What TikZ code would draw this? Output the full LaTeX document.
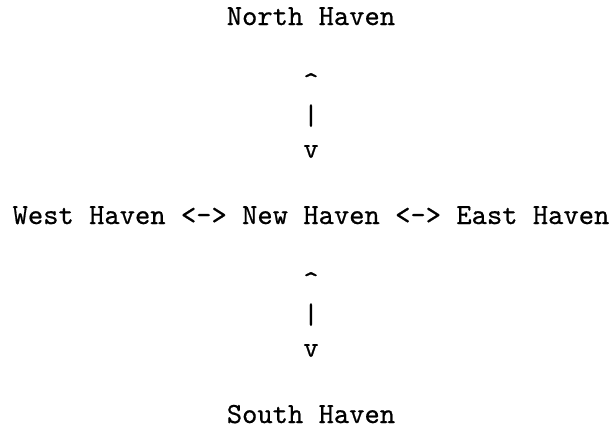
\documentclass[tikz,border=0pt]{standalone}
\usepackage{fontspec}
\setmonofont{lmmono10-regular.otf}[FakeBold=0.6]
\usetikzlibrary{positioning}

\begin{document}
\begin{tikzpicture}[x=1pt,y=1pt,
  every node/.style={font=\ttfamily, inner sep=0pt, outer sep=0pt, anchor=base}]
\useasboundingbox (0,0) rectangle (209.3,-145.8);
\node (north) at (106.7,-8.58) {North Haven};
\node (up1) at (106.7,-31.34) {\textasciicircum};
\node (bar1) at (106.7,-42.72) {|};
\node (down1) at (106.7,-54.10) {v};

\node[anchor=base west] (west) at (4.33,-76.86) {West Haven};
\node[right=5.25pt of west.base east, anchor=base west] (arrl) {<->};
\node[right=5.25pt of arrl.base east, anchor=base west] (new) {New Haven};
\node[right=5.25pt of new.base east, anchor=base west] (arrr) {<->};
\node[right=5.25pt of arrr.base east, anchor=base west] (east) {East Haven};

\node (up2) at (106.7,-99.62) {\textasciicircum};
\node (bar2) at (106.7,-111.0) {|};
\node (down2) at (106.7,-122.38) {v};
\node (south) at (106.7,-145.14) {South Haven};
\end{tikzpicture}
\end{document}
